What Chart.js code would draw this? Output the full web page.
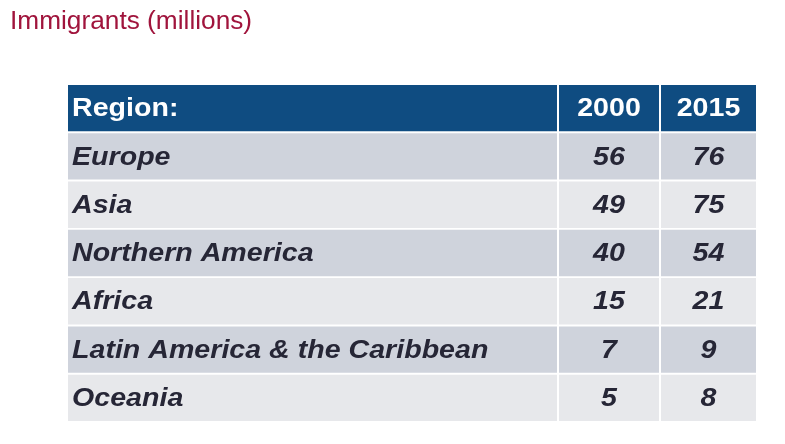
<!DOCTYPE html>
<html>
<head>
<meta charset="utf-8">
<script src="https://cdn.jsdelivr.net/npm/chart.js@4/dist/chart.umd.min.js"></script>
<style>
  body { margin: 0; background: #fff; }
  #wrap { width: 785px; height: 444px; }
</style>
</head>
<body>
<div id="wrap"><canvas id="tabla"></canvas></div>
<script>
var titulo = "Immigrants (millions)";
var encabezado = ["Region:", "2000", "2015"];
var regiones = ["Europe", "Asia", "Northern America", "Africa", "Latin America & the Caribbean", "Oceania"];
var valores2000 = [56, 49, 40, 15, 7, 5];
var valores2015 = [76, 75, 54, 21, 9, 8];
// column spans on the x scale
var columnas = [[0, 489], [491, 591], [593, 688]];

var filas = ["header"].concat(regiones);

function colorFila(ctx) {
  var i = ctx.dataIndex;
  if (i == 0) return "#0f4c81";
  return (i % 2 == 1) ? "#cfd3dc" : "#e7e8eb";
}

var datasets = columnas.map(function (col) {
  return {
    data: filas.map(function () { return [col[0], col[1]]; }),
    backgroundColor: colorFila,
    borderWidth: 0,
    grouped: false,
    barPercentage: 1,
    categoryPercentage: 0.96
  };
});

// text drawn slightly stretched horizontally, like the original slide
function textoAncho(c, txt, x, y, escala) {
  c.save();
  c.translate(x, y);
  c.scale(escala, 1);
  c.fillText(txt, 0, 0);
  c.restore();
}

var textoPlugin = {
  id: "textoTabla",
  afterDatasetsDraw: function (chart) {
    var c = chart.ctx;
    c.save();
    c.fillStyle = "#a0143c";
    c.font = "25px 'Liberation Sans', Arial, sans-serif";
    c.textAlign = "left";
    c.textBaseline = "middle";
    textoAncho(c, titulo, 10, 22, 1.05);

    for (var col = 0; col < 3; col++) {
      var meta = chart.getDatasetMeta(col);
      meta.data.forEach(function (bar, i) {
        var txt;
        if (i == 0) {
          txt = encabezado[col];
          c.fillStyle = "#ffffff";
          c.font = "bold 26px 'Liberation Sans', Arial, sans-serif";
        } else {
          txt = col == 0 ? regiones[i - 1] : String(col == 1 ? valores2000[i - 1] : valores2015[i - 1]);
          c.fillStyle = "#262636";
          c.font = "italic bold 26px 'Liberation Sans', Arial, sans-serif";
        }
        if (col == 0) {
          c.textAlign = "left";
          textoAncho(c, txt, bar.base + 4, bar.y + 1, 1.1);
        } else {
          c.textAlign = "center";
          textoAncho(c, txt, (bar.base + bar.x) / 2, bar.y + 1, 1.1);
        }
      });
    }
    c.restore();
  }
};

new Chart(document.getElementById("tabla"), {
  type: "bar",
  data: { labels: filas, datasets: datasets },
  options: {
    indexAxis: "y",
    responsive: true,
    maintainAspectRatio: false,
    animation: false,
    layout: { padding: { left: 68, right: 29, top: 84, bottom: 22 } },
    scales: {
      x: { type: "linear", min: 0, max: 688, display: false },
      y: { display: false }
    },
    plugins: { legend: { display: false }, tooltip: { enabled: false } }
  },
  plugins: [textoPlugin]
});
</script>
</body>
</html>
